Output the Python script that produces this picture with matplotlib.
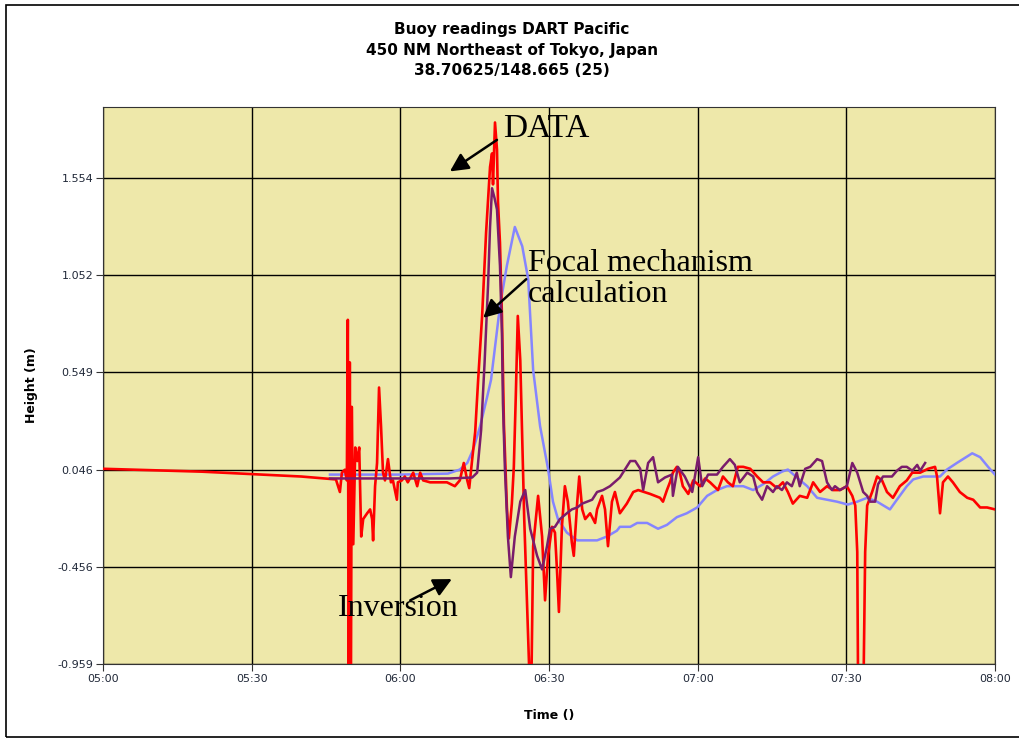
import matplotlib
matplotlib.use("Agg")
import matplotlib.pyplot as plt
from matplotlib.patches import Rectangle

# temps en minutes depuis 05:00, hauteur en metres
red_t = [0, 20, 40, 47.0, 47.8, 48.2, 48.8, 49.2, 49.4, 49.6, 49.8, 50.0, 50.2, 50.5,
         50.9, 51.3, 51.7, 52.1, 52.5, 53.3, 53.9, 54.3, 54.5, 54.9, 55.3, 55.7, 56.1,
         56.5, 56.9, 57.5, 58.1, 58.5, 59.3, 59.5, 60.3, 60.9, 61.5, 62.6, 63.4, 64.0,
         64.6, 66.0, 67.4, 69.4, 71.0, 72.0, 72.8, 73.5, 73.9, 74.5, 75.1, 75.7, 76.5,
         77.3, 78.1, 78.5, 78.7, 79.1, 79.5, 79.7, 80.1, 80.5, 80.9, 81.5, 81.9, 82.5,
         82.9, 83.3, 83.7, 84.2, 84.6, 85.0, 85.4, 85.8, 86.2, 86.4, 86.8, 87.8, 88.6,
         89.2, 89.8, 90.6, 91.2, 91.6, 92.0, 92.6, 93.2, 93.8, 94.6, 95.0, 95.7, 96.1,
         96.7, 97.3, 98.3, 99.3, 99.7, 100.7, 101.3, 101.9, 102.7, 103.3, 104.3, 105.7,
         107.0, 108.0, 110.4, 112.4, 113.0, 113.8, 114.4, 115.0, 115.8, 116.4, 117.0,
         118.1, 119.1, 120.5, 121.5, 122.5, 124.1, 125.1, 126.1, 127.1, 128.1, 129.2,
         130.6, 132.0, 133.2, 134.6, 136.0, 137.2, 138.2, 139.2, 140.6, 142.1, 143.3,
         144.7, 146.1, 147.3, 148.7, 150.1, 151.2, 151.8, 152.2, 152.4, 153.4, 153.8,
         154.2, 155.2, 156.2, 157.2, 158.2, 159.4, 160.8, 162.2, 163.3, 164.9, 166.5,
         167.9, 168.3, 168.9, 169.5, 170.5, 171.5, 172.9, 174.4, 175.6, 177.0, 178.4, 180.0]
red_h = [0.05, 0.035, 0.01, -0.005, -0.07, 0.03, 0.045, -0.01, 0.82, -1.3, 0.6, -1.3, 0.37, -0.34,
         0.16, 0.09, 0.16, -0.30, -0.21, -0.18, -0.16, -0.21, -0.32, -0.04, 0.08, 0.47, 0.27,
         0.03, -0.01, 0.10, -0.02, -0.01, -0.11, -0.02, -0.01, 0.01, -0.02, 0.03, -0.04, 0.03,
         -0.01, -0.02, -0.02, -0.02, -0.04, -0.01, 0.08, -0.01, -0.05, 0.10, 0.24, 0.51, 0.84,
         1.27, 1.61, 1.68, 1.52, 1.84, 1.70, 1.43, 1.22, 0.84, 0.28, -0.15, -0.31, -0.13,
         0.06, 0.43, 0.84, 0.61, 0.20, -0.21, -0.52, -0.83, -1.14, -1.14, -0.35, -0.09, -0.30,
         -0.63, -0.40, -0.25, -0.28, -0.47, -0.69, -0.25, -0.04, -0.12, -0.33, -0.40, -0.12, 0.01,
         -0.16, -0.21, -0.18, -0.23, -0.16, -0.09, -0.16, -0.35, -0.12, -0.07, -0.18, -0.13,
         -0.07, -0.06, -0.08, -0.10, -0.12, -0.06, -0.02, 0.03, 0.06, 0.03, -0.04,
         -0.08, -0.01, -0.04, 0.00, -0.02, -0.06, 0.01, -0.02, -0.04, 0.06, 0.06,
         0.05, 0.01, -0.02, -0.02, -0.05, -0.02, -0.07, -0.13, -0.09, -0.10, -0.02,
         -0.07, -0.04, -0.06, -0.06, -0.04, -0.09, -0.14, -0.38, -1.2, -1.2, -0.38,
         -0.14, -0.07, 0.01, -0.01, -0.07, -0.10, -0.04, -0.01, 0.03, 0.03, 0.05,
         0.06, 0.01, -0.18, -0.02, 0.01, -0.02, -0.07, -0.10, -0.11, -0.15, -0.15, -0.16]

purple_t = [45.8, 60, 70, 74.5, 75.5, 76.3, 77.0, 77.7, 78.1, 78.5, 79.0, 79.5, 80.1, 80.5,
            80.7, 81.1, 81.7, 82.3, 83.1, 84.2, 85.2, 86.2, 87.6, 88.6, 89.6, 90.2, 91.2,
            92.2, 93.6, 94.6, 95.7, 96.7, 98.7, 99.7, 100.9, 102.3, 104.3, 106.4, 107.4,
            108.4, 109.0, 110.0, 111.0, 112.0, 113.4, 114.8, 115.0, 116.0, 117.4, 118.9,
            120.1, 120.9, 122.1, 123.9, 125.1, 126.5, 127.5, 128.5, 130.0, 131.2, 132.0,
            133.0, 134.0, 135.2, 136.0, 137.0, 138.0, 139.0, 140.0, 140.6, 141.7, 142.7,
            144.1, 145.1, 146.1, 147.1, 147.7, 148.7, 150.1, 151.2, 152.2, 153.4, 154.2,
            154.8, 155.8, 156.4, 157.4, 159.2, 160.2, 161.2, 162.2, 163.3, 164.3, 164.9, 165.9]
purple_h = [0.0, 0.0, 0.0, 0.005, 0.03, 0.25, 0.6, 1.0, 1.3, 1.50, 1.45, 1.39, 1.10, 0.75,
            0.39, 0.05, -0.30, -0.51, -0.30, -0.12, -0.06, -0.26, -0.40, -0.47, -0.35, -0.26, -0.25,
            -0.21, -0.18, -0.16, -0.15, -0.13, -0.11, -0.07, -0.06, -0.04, 0.005, 0.09, 0.09,
            0.05, -0.06, 0.08, 0.11, -0.02, 0.005, 0.02, -0.09, 0.06, 0.01, -0.07,
            0.11, -0.04, 0.02, 0.02, 0.06, 0.10, 0.07, -0.02, 0.03, 0.01, -0.07,
            -0.11, -0.04, -0.07, -0.04, -0.06, -0.02, -0.04, 0.03, -0.04, 0.05, 0.06,
            0.10, 0.09, -0.02, -0.06, -0.04, -0.06, -0.04, 0.08, 0.03, -0.07, -0.09,
            -0.12, -0.12, -0.03, 0.01, 0.01, 0.04, 0.06, 0.06, 0.04, 0.07, 0.04, 0.08]

blue_t = [45.8, 60, 69.6, 72.0, 73.5, 74.7, 76.1, 77.5, 78.3, 80.1, 81.5, 83.1, 84.6, 85.8,
          86.8, 88.2, 89.8, 90.8, 91.8, 93.6, 95.7, 97.7, 99.7, 101.7, 103.7, 104.3, 106.4,
          107.8, 109.8, 112.0, 113.8, 115.8, 117.8, 119.9, 121.9, 123.9, 125.9, 129.2, 131.2,
          133.2, 135.2, 137.0, 138.2, 140.0, 142.1, 144.1, 146.1, 148.1, 150.3, 152.2, 154.2,
          156.2, 158.8, 160.2, 162.2, 163.5, 165.5, 168.9, 170.3, 172.3, 175.4, 177.0, 178.6, 180.0]
blue_h = [0.02, 0.02, 0.025, 0.046, 0.08, 0.15, 0.27, 0.42, 0.51, 0.89, 1.10, 1.30, 1.20, 1.03,
          0.56, 0.27, 0.05, -0.12, -0.21, -0.28, -0.32, -0.32, -0.32, -0.30, -0.27, -0.25, -0.25,
          -0.23, -0.23, -0.26, -0.24, -0.20, -0.18, -0.15, -0.09, -0.06, -0.04, -0.04, -0.06,
          -0.03, 0.01, 0.035, 0.046, 0.005, -0.04, -0.10, -0.11, -0.12, -0.135, -0.12, -0.10,
          -0.12, -0.16, -0.11, -0.04, -0.005, 0.01, 0.01, 0.046, 0.08, 0.13, 0.11, 0.06, 0.02]

y_ticks = [-0.959, -0.456, 0.046, 0.549, 1.052, 1.554]
x_ticks = [0, 30, 60, 90, 120, 150, 180]
x_labels = ["05:00", "05:30", "06:00", "06:30", "07:00", "07:30", "08:00"]

fig = plt.figure(figsize=(10.2, 7.38), dpi=100)
ax = fig.add_axes([0.101, 0.1003, 0.8745, 0.7547])
ax.set_facecolor("#eee8aa")

ax.plot(blue_t, blue_h, color="#8585ff", lw=1.8, zorder=3)
ax.plot(red_t, red_h, color="#ff0000", lw=1.9, zorder=4)
ax.plot(purple_t, purple_h, color="#7a1c6c", lw=1.8, zorder=5)

ax.set_xlim(0, 180)
ax.set_ylim(-0.959, 1.92)
ax.set_xticks(x_ticks)
ax.set_xticklabels(x_labels)
ax.set_yticks(y_ticks)
ax.set_yticklabels([f"{v:.3f}" for v in y_ticks])
ax.grid(True, color="black", lw=1, zorder=1)
ax.set_axisbelow(True)
ax.tick_params(labelsize=8, labelcolor="#202838", length=5, pad=2, color="#333333")
for s in ax.spines.values():
    s.set_color("#333333")

ax.set_xlabel("Time ()", fontsize=9, fontweight="bold", labelpad=18)
ax.set_ylabel("Height (m)", fontsize=9, fontweight="bold", labelpad=14)

fig.text(0.502, 0.970, "Buoy readings DART Pacific\n450 NM Northeast of Tokyo, Japan\n38.70625/148.665 (25)",
         ha="center", va="top", fontsize=11, fontweight="bold", linespacing=1.45)

# annotations
serif = "Liberation Serif"
arrow = dict(arrowstyle="-|>,head_length=1.1,head_width=0.55", color="black", lw=1.8,
             shrinkA=0, shrinkB=0)
ax.annotate("", xy=(70.0, 1.587), xytext=(79.5, 1.75), arrowprops=arrow, zorder=6)
ax.annotate("", xy=(76.7, 0.83), xytext=(85.4, 1.03), arrowprops=arrow, zorder=6)
ax.annotate("", xy=(70.4, -0.52), xytext=(62.0, -0.63), arrowprops=arrow, zorder=6)
ax.text(80.7, 1.81, "DATA", family=serif, fontsize=24, va="center", ha="left", zorder=7)
ax.text(85.8, 1.03, "Focal mechanism\ncalculation", family=serif, fontsize=23,
        va="center", ha="left", linespacing=1.08, zorder=7)
ax.text(47.4, -0.67, "Inversion", family=serif, fontsize=23, va="center", ha="left", zorder=7)

fig.patches.append(Rectangle((0.006, 0.0015), 1.0, 0.992, transform=fig.transFigure,
                             fill=False, edgecolor="black", lw=1.2))

fig.savefig("out.png", dpi=100)
